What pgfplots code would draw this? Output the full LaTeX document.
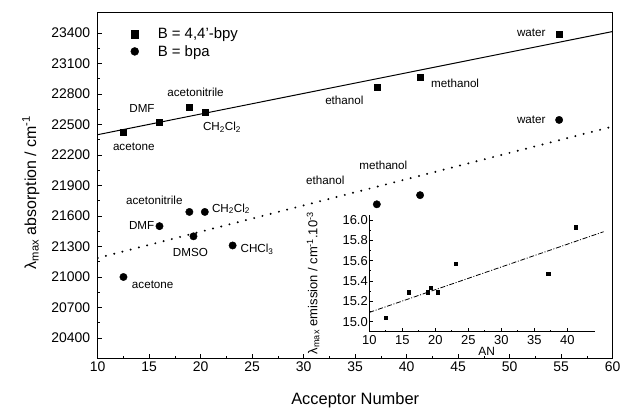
\documentclass[border=0pt]{standalone}
\usepackage{fontspec}
\setmainfont{Liberation Sans}
\usepackage{pgfplots}
\pgfplotsset{compat=1.18}
\tikzset{solvent/.style={font=\fontsize{11.7}{13}\selectfont, inner sep=0pt}}

% absorption maxima (cm^-1) against solvent acceptor number
\pgfplotstableread{
an    nu
12.5  22420
16.0  22520
18.9  22670
20.4  22620
37.1  22870
41.3  22970
54.8  23390
}\bpy
\pgfplotstableread{
an    nu
12.5  21000
16.0  21500
18.9  21640
20.4  21640
19.3  21400
23.1  21310
37.1  21715
41.3  21805
54.8  22545
}\bpa
% emission maxima (10^3 cm^-1)
\pgfplotstableread{
an    nu
12.5  15.04
16.0  15.29
18.9  15.29
19.3  15.33
20.4  15.29
23.1  15.57
37.1  15.47
41.3  15.93
}\emis

\begin{document}
\begin{tikzpicture}
\path[use as bounding box] (0,0) rectangle (621bp,414bp);

\begin{axis}[
  at={(97.7bp,55.7bp)}, anchor=south west,
  scale only axis, width=515bp, height=345.6bp,
  xmin=10, xmax=60, ymin=20200, ymax=23600,
  xtick={10,15,...,60},
  ytick={20400,20700,...,23400},
  scaled y ticks=false,
  minor tick num=1,
  tick align=inside,
  xtick pos=bottom, ytick pos=left,
  major tick length=4.5bp, minor tick length=2.5bp,
  axis line style={line width=1bp},
  every tick/.style={line width=0.8bp, black},
  /pgf/number format/assume math mode=true,
  /pgf/number format/set thousands separator={},
  tick label style={font=\fontsize{14}{16}\selectfont},
  yticklabel style={xshift=-4bp},
  xlabel={Acceptor Number},
  ylabel={λ\textsubscript{max} absorption / cm\textsuperscript{-1}},
  xlabel style={at={(axis description cs:0.5,-0.121)}, anchor=center,
                font=\fontsize{16.5}{19}\selectfont},
  ylabel style={at={(axis description cs:-0.13,0.48)}, anchor=center,
                font=\fontsize{16}{19}\selectfont},
  legend style={at={(axis description cs:0.058,0.968)}, anchor=north west,
                draw=none, fill=none, font=\fontsize{15}{18}\selectfont,
                row sep=1bp, column sep=17bp},
  legend cell align=left,
]
\addlegendimage{only marks, mark=square*, mark size=3.6bp}
\addlegendentry{B = 4,4'-bpy}
\addlegendimage{only marks, mark=*, mark size=4bp}
\addlegendentry{B = bpa}

% linear fits
\addplot[black, line width=1bp, forget plot] coordinates {(10,22400) (60,23415)};
\addplot[black, line width=2.2bp, line cap=round, dash pattern=on 0bp off 8.5bp, forget plot]
  coordinates {(10,21187) (60,22480)};

\addplot[only marks, mark=square*, mark size=3bp, forget plot] table[x=an,y=nu] {\bpy};
\addplot[only marks, mark=*, mark size=3.7bp, forget plot] table[x=an,y=nu] {\bpa};

% solvent names, 4,4'-bpy series
\node[solvent] at (axis cs:13.5,22277) {acetone};
\node[solvent] at (axis cs:14.3,22654) {DMF};
\node[solvent] at (axis cs:19.5,22817) {acetonitrile};
\node[solvent] at (axis cs:22.07,22473) {CH\textsubscript{2}Cl\textsubscript{2}};
\node[solvent] at (axis cs:33.95,22735) {ethanol};
\node[solvent] at (axis cs:44.7,22905) {methanol};
\node[solvent] at (axis cs:52.1,23400) {water};
% solvent names, bpa series
\node[solvent] at (axis cs:52.1,22549) {water};
\node[solvent] at (axis cs:37.73,22097) {methanol};
\node[solvent] at (axis cs:32.1,21950) {ethanol};
\node[solvent] at (axis cs:15.5,21753) {acetonitrile};
\node[solvent] at (axis cs:14.27,21508) {DMF};
\node[solvent] at (axis cs:22.94,21672) {CH\textsubscript{2}Cl\textsubscript{2}};
\node[solvent] at (axis cs:19.0,21245) {DMSO};
\node[solvent] at (axis cs:25.47,21269) {CHCl\textsubscript{3}};
\node[solvent] at (axis cs:15.34,20928) {acetone};
\end{axis}

% emission inset
\begin{axis}[
  at={(369.3bp,82.3bp)}, anchor=south west,
  scale only axis, width=225.7bp, height=116.7bp,
  xmin=10, xmax=44.2, ymin=14.9, ymax=16.05,
  axis x line=bottom, axis y line=left,
  axis line style={-, line width=0.9bp},
  xtick={10,15,...,40},
  ytick={15.0,15.2,15.4,15.6,15.8,16.0},
  minor tick num=1,
  tick align=inside,
  major tick length=3.5bp, minor tick length=2bp,
  every tick/.style={line width=0.7bp, black},
  clip=false,
  /pgf/number format/assume math mode=true,
  tick label style={font=\fontsize{13}{15}\selectfont},
  yticklabel style={xshift=2bp, /pgf/number format/fixed,
                    /pgf/number format/fixed zerofill, /pgf/number format/precision=1},
  xlabel={AN},
  ylabel={λ\textsubscript{max} emission / cm\textsuperscript{-1}.10\textsuperscript{-3}},
  xlabel style={at={(axis description cs:0.52,-0.171)}, anchor=center,
                font=\fontsize{12}{14}\selectfont},
  ylabel style={at={(axis description cs:-0.249,0.417)}, anchor=center,
                font=\fontsize{13}{15}\selectfont},
]
\addplot[black, line width=0.8bp, dash pattern=on 5bp off 1.7bp on 1bp off 1.7bp]
  coordinates {(10,15.09) (45.5,15.885)};
\addplot[only marks, mark=square*, mark size=1.6bp] table[x=an,y=nu] {\emis};
\end{axis}
\end{tikzpicture}
\end{document}
